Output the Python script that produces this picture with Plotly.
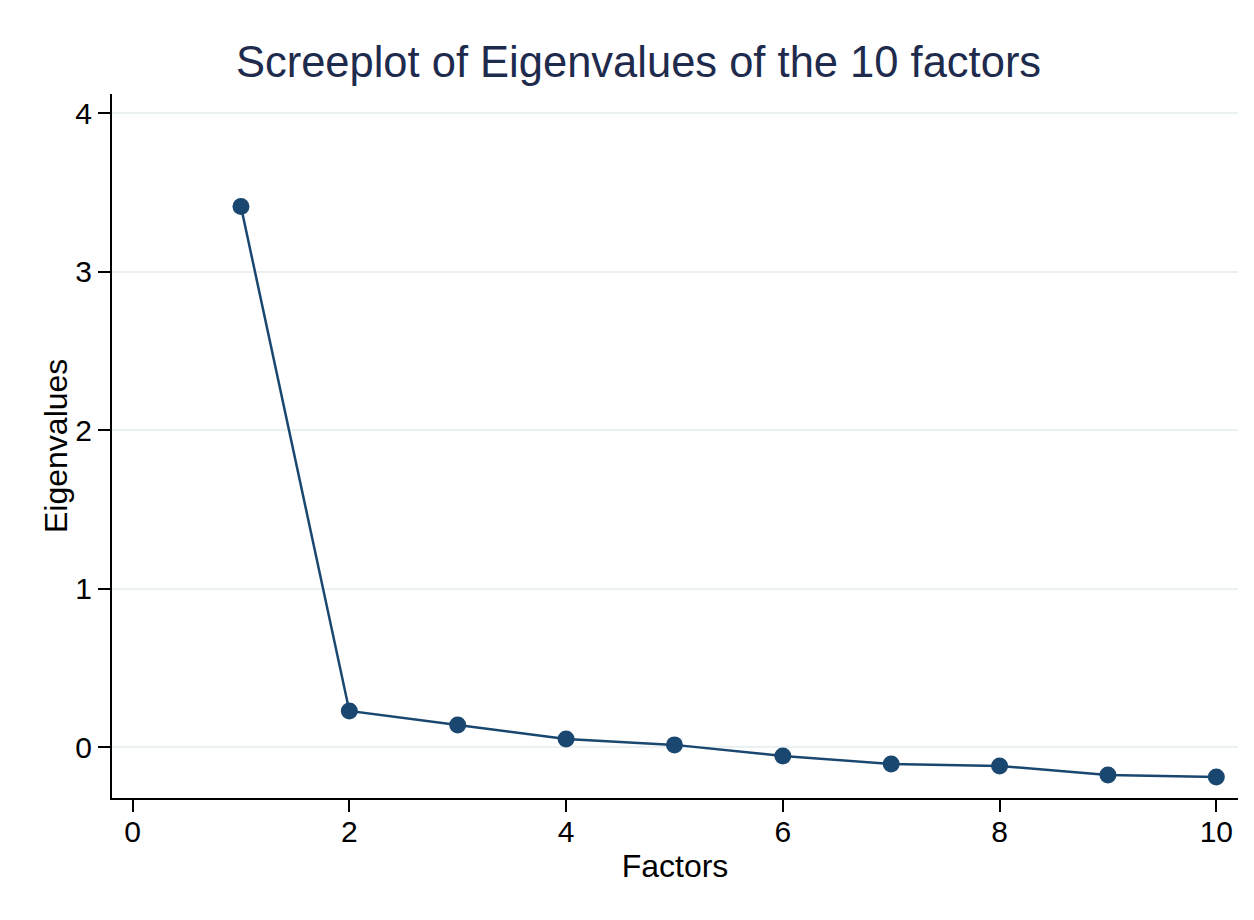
import plotly.graph_objects as go

factors = [1, 2, 3, 4, 5, 6, 7, 8, 9, 10]
eigenvalues = [3.41, 0.229, 0.141, 0.052, 0.015, -0.055, -0.105, -0.118, -0.175, -0.188]
x_ticks = [0, 2, 4, 6, 8, 10]
y_ticks = [0, 1, 2, 3, 4]

navy = "#1a476f"
font_family = "Liberation Sans, Arial, Helvetica, sans-serif"

W, H = 1246, 912  # page body has an 8px margin
L, R, T, B = 104, 16, 86, 122
PW = W - L - R

fig = go.Figure()
fig.add_trace(go.Scatter(
    x=factors, y=eigenvalues, mode="lines+markers",
    line=dict(color=navy, width=2.5),
    marker=dict(color=navy, size=17),
    showlegend=False,
))

fig.update_layout(
    width=W, height=H,
    margin=dict(l=L, r=R, t=T, b=B),
    paper_bgcolor="white", plot_bgcolor="white",
    font=dict(family=font_family, color="black", size=30),
    title=dict(text="Screeplot of Eigenvalues of the 10 factors",
               x=630.5 / W, xanchor="center", xref="container",
               y=1 - 54 / H, yanchor="middle", yref="container",
               font=dict(size=43.5, color="#1e2b4d", family=font_family)),
    xaxis=dict(range=[-0.19, 10.2], tickvals=x_ticks, showgrid=False, zeroline=False,
               showline=True, linecolor="black", linewidth=2,
               ticks="outside", ticklen=12, tickwidth=2, tickcolor="black",
               tickfont=dict(size=30), ticklabelstandoff=-6,
               title=dict(text="Factors", font=dict(size=32), standoff=8)),
    yaxis=dict(range=[-0.32, 4.12], tickvals=y_ticks, showgrid=True,
               gridcolor="#e9f1f3", gridwidth=2, zeroline=False,
               showline=True, linecolor="black", linewidth=2,
               ticks="outside", ticklen=12, tickwidth=2, tickcolor="black",
               tickfont=dict(size=30)),
    annotations=[dict(text="Eigenvalues", textangle=-90, showarrow=False,
                      xref="paper", yref="paper",
                      x=(48 - L) / PW, y=0.5, xanchor="center", yanchor="middle",
                      font=dict(size=32, color="black", family=font_family))],
)

fig.write_html("out.html")
